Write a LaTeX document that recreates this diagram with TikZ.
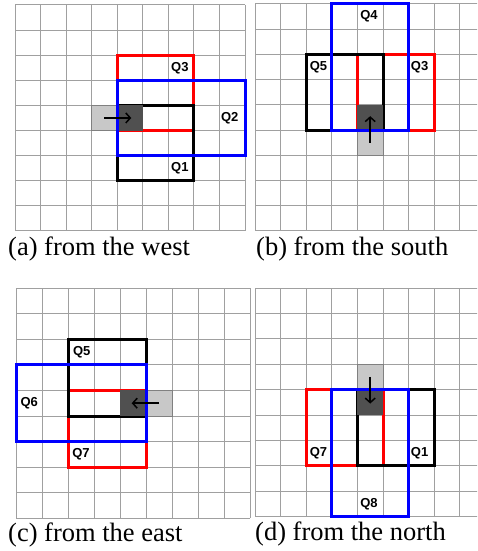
\documentclass[tikz,border=0pt]{standalone}
\usepackage{fontspec}
\setmainfont{Liberation Serif}
\newfontfamily\qfont{Liberation Sans}
\usetikzlibrary{arrows.meta}
\definecolor{gridgray}{RGB}{160,160,160}
\definecolor{lightcell}{RGB}{200,200,200}
\definecolor{darkcell}{RGB}{80,80,80}
\definecolor{qred}{RGB}{255,0,0}
\definecolor{qblue}{RGB}{0,0,255}
\tikzset{
  gridline/.style={draw=gridgray, line width=1pt},
  redq/.style={draw=qred, line width=3pt},
  blueq/.style={draw=qblue, line width=3pt},
  blackq/.style={draw=black, line width=3pt},
  srccell/.style={fill=lightcell, draw=gray, line width=1pt},
  dstcell/.style={fill=darkcell},
  qlabel/.style={font=\qfont\bfseries\fontsize{13}{13}\selectfont, inner sep=0pt},
  caption/.style={font=\fontsize{26.5}{26.5}\selectfont, anchor=base west, inner sep=0pt},
  move/.style={-{Straight Barb[length=4.5pt,width=10pt]}, line width=1.5pt}
}
\newcommand{\panelgrid}{%
  \foreach \i in {0,...,9} \draw[gridline] (\i,0) -- (\i,9);
  \foreach \j in {0,...,9} \draw[gridline] (0,\j) -- (9,\j);
}
\begin{document}
\begin{tikzpicture}[x=1pt,y=-1pt]
\useasboundingbox (0,0) rectangle (477,551);
\clip (0,0) rectangle (477,551);
\fill[white] (0,0) rectangle (477,551);

% (a) from the west
\begin{scope}[shift={(15pt,-5pt)}, x=25.56pt, y=-25.1pt]
  \panelgrid
  \draw[redq] (4,2) rectangle (7,5);
  \draw[blackq] (4,4) rectangle (7,7);
  \draw[srccell] (3,4) rectangle (4,5);
  \fill[dstcell] (4,4) rectangle (5,5);
  \draw[blueq] (4,3) rectangle (9,6);
  \coordinate (a-src) at (3.5,4.5);
  \coordinate (a-dst) at (4.55,4.5);
  \draw[move] (a-src) -- (a-dst);
  \node[qlabel] (a-q3) at (6.45,2.5) {Q3};
  \node[qlabel] (a-q2) at (8.4,4.5) {Q2};
  \node[qlabel] (a-q1) at (6.45,6.5) {Q1};
\end{scope}
\node[caption] (cap-a) at (8,255) {(a) from the west};

% (b) from the south
\begin{scope}[shift={(255pt,-4pt)}, x=25.6pt, y=-25.2pt]
  \panelgrid
  \draw[redq] (4,2) rectangle (7,5);
  \draw[blackq] (2,2) rectangle (5,5);
  \draw[srccell] (4,5) rectangle (5,6);
  \fill[dstcell] (4,4) rectangle (5,5);
  \draw[blueq] (3,0) rectangle (6,5);
  \coordinate (b-src) at (4.5,5.5);
  \coordinate (b-dst) at (4.5,4.45);
  \draw[move] (b-src) -- (b-dst);
  \node[qlabel] (b-q4) at (4.45,0.5) {Q4};
  \node[qlabel] (b-q5) at (2.48,2.5) {Q5};
  \node[qlabel] (b-q3) at (6.43,2.5) {Q3};
\end{scope}
\node[caption] (cap-b) at (256,255) {(b) from the south};

% (c) from the east
\begin{scope}[shift={(16pt,-288pt)}, x=26pt, y=-25.6pt]
  \panelgrid
  \draw[redq] (2,4) rectangle (5,7);
  \draw[blackq] (2,2) rectangle (5,5);
  \draw[srccell] (5,4) rectangle (6,5);
  \fill[dstcell] (4,4) rectangle (5,5);
  \draw[blueq] (0,3) rectangle (5,6);
  \coordinate (c-src) at (5.5,4.5);
  \coordinate (c-dst) at (4.45,4.5);
  \draw[move] (c-src) -- (c-dst);
  \node[qlabel] (c-q5) at (2.53,2.5) {Q5};
  \node[qlabel] (c-q6) at (0.51,4.5) {Q6};
  \node[qlabel] (c-q7) at (2.5,6.5) {Q7};
\end{scope}
\node[caption] (cap-c) at (8,541.5) {(c) from the east};

% (d) from the north
\begin{scope}[shift={(255pt,-288pt)}, x=25.6pt, y=-25.4pt]
  \panelgrid
  \draw[redq] (2,4) rectangle (5,7);
  \draw[blackq] (4,4) rectangle (7,7);
  \draw[srccell] (4,3) rectangle (5,4);
  \fill[dstcell] (4,4) rectangle (5,5);
  \draw[blueq] (3,4) rectangle (6,9);
  \coordinate (d-src) at (4.5,3.5);
  \coordinate (d-dst) at (4.5,4.55);
  \draw[move] (d-src) -- (d-dst);
  \node[qlabel] (d-q7) at (2.48,6.5) {Q7};
  \node[qlabel] (d-q1) at (6.43,6.5) {Q1};
  \node[qlabel] (d-q8) at (4.45,8.5) {Q8};
\end{scope}
\node[caption] (cap-d) at (255,540) {(d) from the north};
\end{tikzpicture}
\end{document}
